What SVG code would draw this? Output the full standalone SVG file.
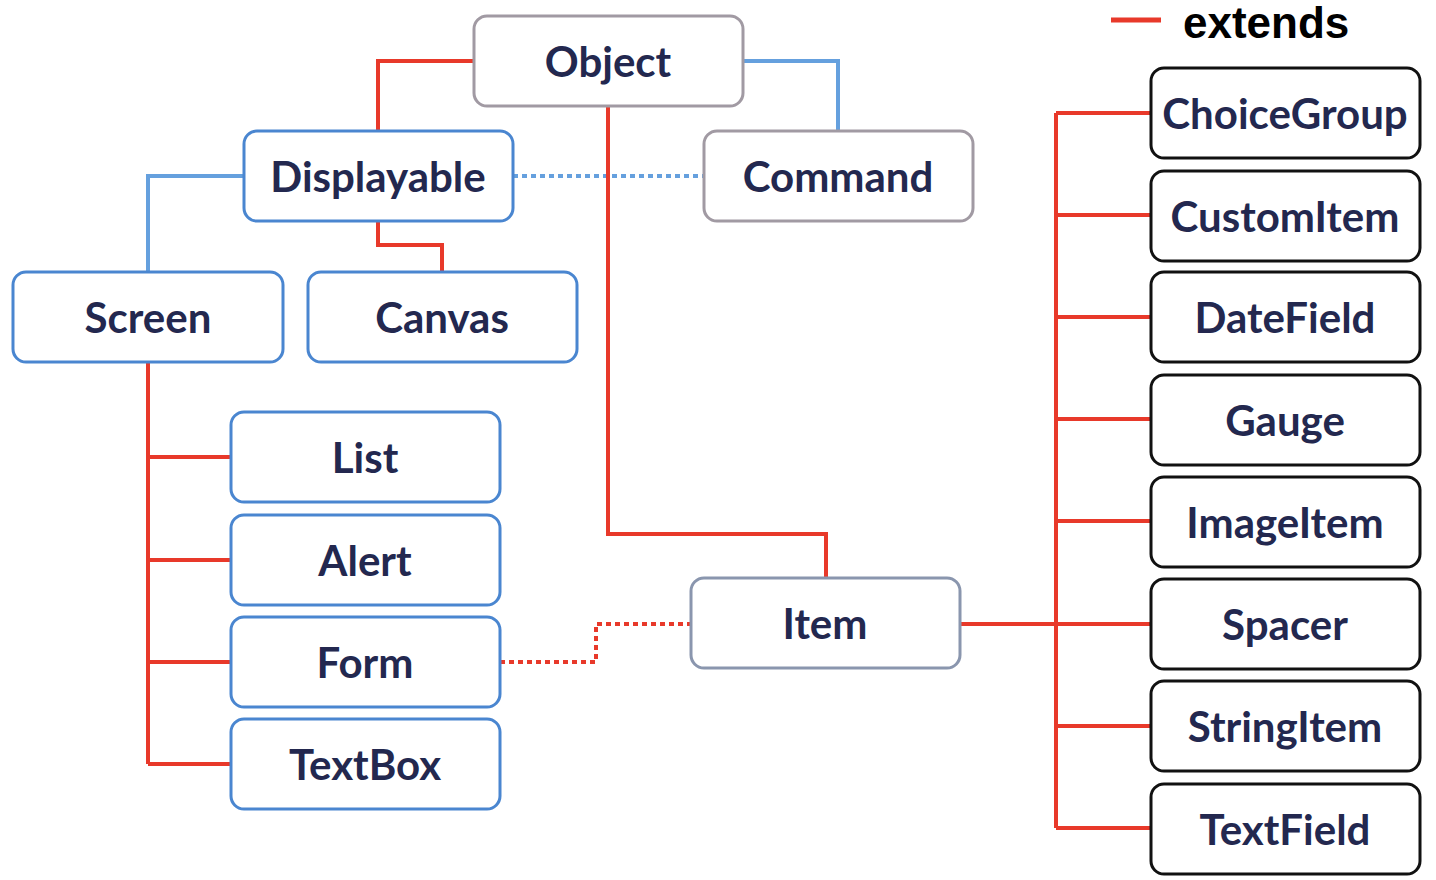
<svg xmlns="http://www.w3.org/2000/svg" width="1436" height="880" viewBox="0 0 1436 880">
<style>
.n rect{fill:#fff;stroke-width:3}
.gray rect{stroke:#a19aa3}
.blue rect{stroke:#4a86d0}
.item rect{stroke:#8a96ae}
.black rect{stroke:#111}
.n text{font-family:Lato,"Open Sans",sans-serif;font-weight:bold;font-size:42px;fill:#23284f;text-anchor:middle;dominant-baseline:central}
.r{fill:none;stroke:#e8392a;stroke-width:4}
.b{fill:none;stroke:#65a0de;stroke-width:4}
.rd{fill:none;stroke:#e8392a;stroke-width:4;stroke-dasharray:5 4}
.bd{fill:none;stroke:#65a0de;stroke-width:4;stroke-dasharray:5 4}
</style>
<rect width="1436" height="880" fill="#fff"/>
<g id="connectors">
<path class="r" d="M474,61 H378 V131"/>
<path class="b" d="M743,61 H838 V131"/>
<path class="bd" d="M513,176 H704"/>
<path class="r" d="M608,106 V534 H826 V578"/>
<path class="b" d="M244,176 H148 V272"/>
<path class="r" d="M378,221 V245 H442 V272"/>
<path class="r" d="M148,362 V764 M148,457 H231 M148,560 H231 M148,662 H231 M148,764 H231"/>
<path class="rd" d="M500,662 H596 V624 H691"/>
<path class="r" d="M960,624 H1056 M1056,113 V828 M1056,113 H1151 M1056,215 H1151 M1056,317 H1151 M1056,419 H1151 M1056,521 H1151 M1056,624 H1151 M1056,726 H1151 M1056,828 H1151"/>
</g>
<g id="legend">
<line x1="1111" y1="20" x2="1161" y2="20" stroke="#e8392a" stroke-width="5"/>
<text x="1183" y="38" font-family="'Liberation Sans',Arial,sans-serif" font-weight="bold" font-size="44" fill="#000">extends</text>
</g>
<g id="Object" class="n gray"><rect x="474" y="16" width="269" height="90" rx="13"/><text x="608" y="61">Object</text></g>
<g id="Command" class="n gray"><rect x="704" y="131" width="269" height="90" rx="13"/><text x="838" y="176">Command</text></g>
<g id="Displayable" class="n blue"><rect x="244" y="131" width="269" height="90" rx="13"/><text x="378" y="176">Displayable</text></g>
<g id="Screen" class="n blue"><rect x="13" y="272" width="270" height="90" rx="13"/><text x="148" y="317">Screen</text></g>
<g id="Canvas" class="n blue"><rect x="308" y="272" width="269" height="90" rx="13"/><text x="442" y="317">Canvas</text></g>
<g id="List" class="n blue"><rect x="231" y="412" width="269" height="90" rx="13"/><text x="365" y="457">List</text></g>
<g id="Alert" class="n blue"><rect x="231" y="515" width="269" height="90" rx="13"/><text x="365" y="560">Alert</text></g>
<g id="Form" class="n blue"><rect x="231" y="617" width="269" height="90" rx="13"/><text x="365" y="662">Form</text></g>
<g id="TextBox" class="n blue"><rect x="231" y="719" width="269" height="90" rx="13"/><text x="365" y="764">TextBox</text></g>
<g id="Item" class="n item"><rect x="691" y="578" width="269" height="90" rx="13"/><text x="825" y="623">Item</text></g>
<g id="ChoiceGroup" class="n black"><rect x="1151" y="68" width="269" height="90" rx="13"/><text x="1285" y="113">ChoiceGroup</text></g>
<g id="CustomItem" class="n black"><rect x="1151" y="171" width="269" height="90" rx="13"/><text x="1285" y="216">CustomItem</text></g>
<g id="DateField" class="n black"><rect x="1151" y="272" width="269" height="90" rx="13"/><text x="1285" y="317">DateField</text></g>
<g id="Gauge" class="n black"><rect x="1151" y="375" width="269" height="90" rx="13"/><text x="1285" y="420">Gauge</text></g>
<g id="ImageItem" class="n black"><rect x="1151" y="477" width="269" height="90" rx="13"/><text x="1285" y="522">ImageItem</text></g>
<g id="Spacer" class="n black"><rect x="1151" y="579" width="269" height="90" rx="13"/><text x="1285" y="624">Spacer</text></g>
<g id="StringItem" class="n black"><rect x="1151" y="681" width="269" height="90" rx="13"/><text x="1285" y="726">StringItem</text></g>
<g id="TextField" class="n black"><rect x="1151" y="784" width="269" height="90" rx="13"/><text x="1285" y="829">TextField</text></g>
</svg>
